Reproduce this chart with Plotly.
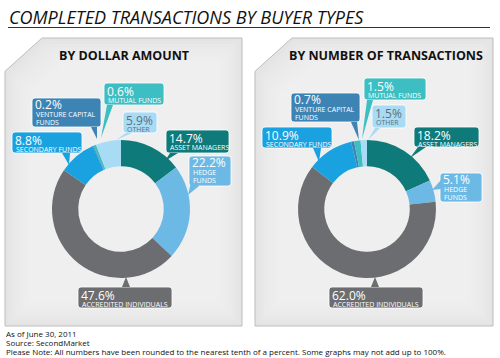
import plotly.graph_objects as go

# ---------------- data ----------------
categories = ["ASSET MANAGERS", "HEDGE FUNDS", "ACCREDITED INDIVIDUALS",
              "SECONDARY FUNDS", "VENTURE CAPITAL FUNDS", "MUTUAL FUNDS", "OTHER"]
dollar_values = [14.7, 22.2, 47.6, 8.8, 0.2, 0.6, 5.9]
txn_values = [18.2, 5.1, 62.0, 10.9, 0.7, 1.5, 1.5]
panel_titles = ["BY DOLLAR AMOUNT", "BY NUMBER OF TRANSACTIONS"]
chart_title = "COMPLETED TRANSACTIONS BY BUYER TYPES"
footer_lines = ["As of June 30, 2011", "Source: SecondMarket",
                "Please Note: All numbers have been rounded to the nearest tenth of a percent. Some graphs may not add up to 100%."]

# ---------------- styles ----------------
colors = ["#0f7a7a", "#6cb9e5", "#6c6d70", "#1aa2e0", "#3d84b5", "#3dbec2", "#a8dcf5"]
text_colors = ["white"] * 6 + ["#5f6f7a"]
label_lines = [["ASSET MANAGERS"], ["HEDGE", "FUNDS"], ["ACCREDITED INDIVIDUALS"],
               ["SECONDARY FUNDS"], ["VENTURE CAPITAL", "FUNDS"], ["MUTUAL FUNDS"], ["OTHER"]]
W, H = 500, 358
FONT = "Open Sans"

# callout boxes (pixel coords) and tails, per panel, in category order
callouts = [
    [  # left
        ((166, 130, 229, 153), [(170, 153), (178, 153), (165, 161)]),
        ((189, 156, 231, 186), [(192, 178), (199, 186), (188, 195)]),
        ((78, 287, 172, 308), [(122, 287), (130, 287), (126, 277)]),
        ((12, 132, 82, 153), [(62, 153), (70, 153), (69, 165)]),
        ((32, 98, 101, 127), [(91, 127), (97, 127), (97, 139)]),
        ((104, 83, 164, 105), [(107, 105), (113, 105), (101, 138)]),
        ((123, 112, 157, 133), [(126, 133), (132, 133), (116, 140)]),
    ],
    [  # right
        ((414, 127, 479, 147), [(418, 147), (426, 147), (410, 158)]),
        ((440, 173, 482, 202), [(441, 180), (441, 189), (432, 190)]),
        ((329, 287, 423, 308), [(371, 287), (379, 287), (375, 277)]),
        ((262, 127, 332, 148), [(313, 148), (321, 148), (319, 162)]),
        ((291, 93, 360, 122), [(351, 122), (357, 122), (359, 140)]),
        ((364, 78, 426, 100), [(367, 100), (373, 100), (362, 139)]),
        ((372, 105, 406, 128), [(375, 128), (380, 128), (368, 140)]),
    ],
]
donut_centers = [(121, 209), (367, 209)]
R = 69
panels = [(5, 38, 242, 326), (255, 38, 493, 326)]
title_centers = [124, 386]

fig = go.Figure()

for i, vals in enumerate([dollar_values, txn_values]):
    cx, cy = donut_centers[i]
    fig.add_trace(go.Pie(
        values=vals, labels=categories, sort=False, direction="clockwise",
        rotation=0, hole=0.62, textinfo="none", hoverinfo="label+percent",
        marker=dict(colors=colors, line=dict(width=0)),
        domain=dict(x=[(cx - R) / W, (cx + R) / W], y=[1 - (cy + R) / H, 1 - (cy - R) / H]),
        showlegend=False,
    ))

shapes = []
annotations = []

def rr_path(x0, y0, x1, y1, r=3):
    return (f"M{x0+r},{y0} L{x1-r},{y0} Q{x1},{y0} {x1},{y0+r} L{x1},{y1-r} "
            f"Q{x1},{y1} {x1-r},{y1} L{x0+r},{y1} Q{x0},{y1} {x0},{y1-r} "
            f"L{x0},{y0+r} Q{x0},{y0} {x0+r},{y0} Z")

def cut_panel(x0, y0, x1, y1, c):
    return f"M{x0+c},{y0} L{x1},{y0} L{x1},{y1} L{x0},{y1} L{x0},{y0+c*0.9} Z"

# panels with cut corner and soft gradient
for (x0, y0, x1, y1) in panels:
    shapes.append(dict(type="path", path=cut_panel(x0, y0, x1, y1, 37), xref="x", yref="y",
                       fillcolor="#e4e4e4", line=dict(color="#bdbdbd", width=1), layer="below"))
    for s in range(1, 9):
        d = 3 * s
        shapes.append(dict(type="path",
                           path=cut_panel(x0 + d, y0 + d, x1 - d, y1 - d, 37),
                           xref="x", yref="y", fillcolor="rgba(255,255,255,0.09)",
                           line=dict(width=0), layer="below"))

# title + rule
annotations.append(dict(text=f"<i>{chart_title}</i>", x=7, y=17, xref="x", yref="y",
                        xanchor="left", yanchor="middle", showarrow=False,
                        font=dict(family=FONT, size=18, color="#111")))
shapes.append(dict(type="line", x0=8, x1=490, y0=27.5, y1=27.5, xref="x", yref="y",
                   line=dict(color="#333", width=1)))

for i, t in enumerate(panel_titles):
    annotations.append(dict(text=f"<b>{t}</b>", x=title_centers[i], y=55, xref="x", yref="y",
                            xanchor="center", yanchor="middle", showarrow=False,
                            font=dict(family=FONT, size=12.5, color="#111")))

for p, vals in enumerate([dollar_values, txn_values]):
    for k, v in enumerate(vals):
        (x0, y0, x1, y1), tail = callouts[p][k]
        shapes.append(dict(type="path", path=rr_path(x0, y0, x1, y1), xref="x", yref="y",
                           fillcolor=colors[k], line=dict(color="#ffffff", width=0.8), layer="above"))
        tp = "M" + " L".join(f"{a},{b}" for a, b in tail) + " Z"
        shapes.append(dict(type="path", path=tp, xref="x", yref="y",
                           fillcolor=colors[k], line=dict(width=0), layer="above"))
        two = len(label_lines[k]) > 1
        annotations.append(dict(text=f"{v:.1f}%", x=x0 + 2, y=y0 + (6.5 if two else 8),
                                xref="x", yref="y", xanchor="left", yanchor="middle",
                                showarrow=False, borderpad=0,
                                font=dict(family=FONT, size=12, color=text_colors[k])))
        for m, ln in enumerate(label_lines[k]):
            annotations.append(dict(text=ln, x=x0 + 2.5, y=y0 + (16.5 if two else 17.5) + 7.5 * m,
                                    xref="x", yref="y", xanchor="left", yanchor="middle",
                                    showarrow=False, borderpad=0,
                                    font=dict(family=FONT, size=7, color=text_colors[k])))

for j, line in enumerate(footer_lines):
    annotations.append(dict(text=line, x=4, y=333 + 9 * j, xref="x", yref="y",
                            xanchor="left", yanchor="middle", showarrow=False,
                            font=dict(family=FONT, size=8, color="#111")))

fig.update_layout(
    width=W, height=H, margin=dict(l=0, r=0, t=0, b=0),
    paper_bgcolor="white", plot_bgcolor="rgba(0,0,0,0)",
    xaxis=dict(range=[0, W], visible=False, fixedrange=True),
    yaxis=dict(range=[H, 0], visible=False, fixedrange=True),
    shapes=shapes, annotations=annotations,
)
fig.write_html("out.html", config={"displayModeBar": False},
               post_script="document.body.style.margin='0';document.body.style.padding='0';")
